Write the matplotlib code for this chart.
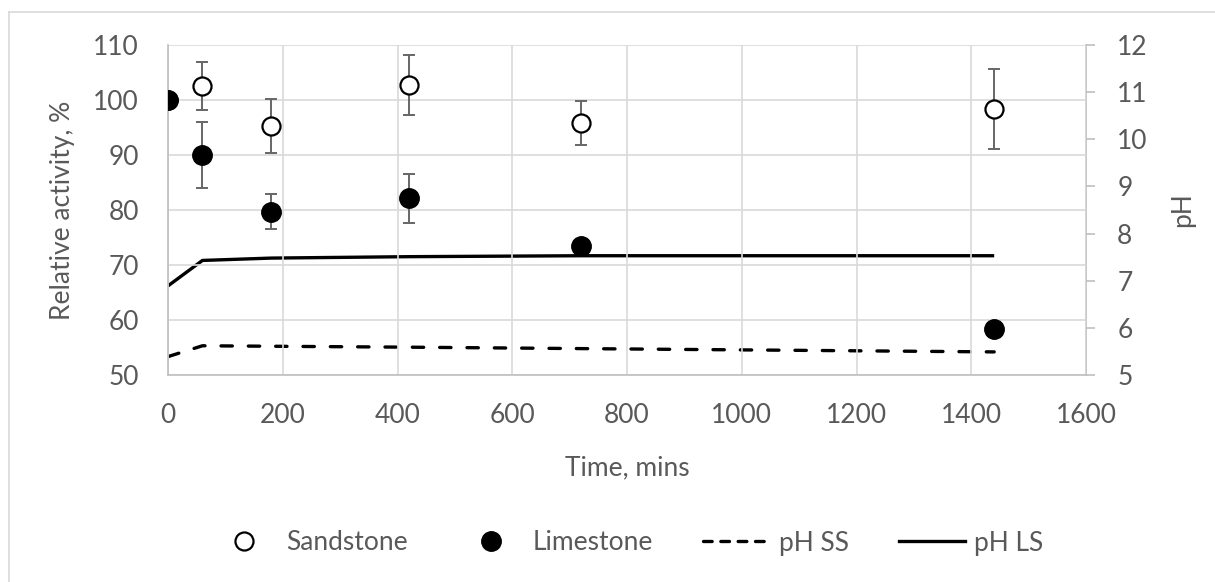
import matplotlib
matplotlib.use("Agg")
import matplotlib.pyplot as plt
from matplotlib.lines import Line2D

plt.rcParams['font.family'] = ['Lato', 'DejaVu Sans']

# Sampling times (minutes)
time_mins = [0, 60, 180, 420, 720, 1440]

# Relative enzyme activity (%) with error bars
sandstone = [100, 102.5, 95.3, 102.7, 95.8, 98.4]
sandstone_err = [0, 4.4, 4.9, 5.4, 4.0, 7.3]
limestone = [100, 90.0, 79.7, 82.1, 73.5, 58.4]
limestone_err = [0, 6.0, 3.2, 4.5, 0.8, 0]

# pH of the suspensions
ph_ss = [5.39, 5.62, 5.61, 5.59, 5.56, 5.49]
ph_ls = [6.89, 7.43, 7.48, 7.51, 7.53, 7.53]

text_color = '#595959'
grid_color = '#d9d9d9'
spine_color = '#bfbfbf'
fs = 19
dash_style = (0, (3.4, 4.8))

fig = plt.figure(figsize=(12.15, 5.82), dpi=100)
ax = fig.add_axes([168 / 1215, 1 - 375 / 582, (1086 - 168) / 1215, (375 - 45) / 582])
ax2 = ax.twinx()

# Chart-area frame
fig.add_artist(Line2D([9 / 1215, 1], [1 - 12 / 582, 1 - 12 / 582], transform=fig.transFigure,
                      color=grid_color, lw=1.2))
fig.add_artist(Line2D([9 / 1215, 9 / 1215], [0, 1 - 12 / 582], transform=fig.transFigure,
                      color=grid_color, lw=1.2))

# pH lines on the secondary axis
ax2.plot(time_mins, ph_ss, color='black', lw=2.4, linestyle=dash_style,
         dash_capstyle='round', zorder=2)
ax2.plot(time_mins, ph_ls, color='black', lw=2.4, solid_capstyle='butt', zorder=2)

# Activity points on the primary axis (drawn above the pH lines)
ax.set_zorder(ax2.get_zorder() + 1)
ax.patch.set_visible(False)
ax2.patch.set_visible(True)
ax2.patch.set_facecolor('white')

err_kw = dict(fmt='none', ecolor='#666666', elinewidth=1.4, capsize=4.5, capthick=1.4, zorder=3)
ax.errorbar(time_mins, sandstone, yerr=sandstone_err, **err_kw)
ax.errorbar(time_mins, limestone, yerr=limestone_err, **err_kw)
ax.plot(time_mins, sandstone, 'o', ms=13, mfc='white', mec='black', mew=1.6, ls='none', zorder=4)
ax.plot(time_mins, limestone, 'o', ms=14, mfc='black', mec='black', ls='none', zorder=5)

# Primary axis
ax.set_xlim(0, 1600)
ax.set_ylim(50, 110)
ax.set_xticks(range(0, 1601, 200))
ax.set_yticks(range(50, 111, 10))
ax.grid(True, color=grid_color, lw=1.2)
ax.set_axisbelow(True)
ax.tick_params(axis='both', length=0, labelsize=fs, labelcolor=text_color)
ax.tick_params(axis='x', pad=20)
ax.tick_params(axis='y', pad=21)
for s in ['top', 'right']:
    ax.spines[s].set_visible(False)
for s in ['left', 'bottom']:
    ax.spines[s].set_color(spine_color)
    ax.spines[s].set_linewidth(1.2)
ax.set_xlabel('Time, mins', fontsize=fs, color=text_color, labelpad=20)
ax.set_ylabel('Relative activity, %', fontsize=fs, color=text_color, labelpad=13)

# Secondary axis
ax2.set_ylim(5, 12)
ax2.set_yticks(range(5, 13))
ax2.tick_params(axis='y', direction='out', length=6.5, width=1.2, color=spine_color,
                labelsize=fs, labelcolor=text_color, pad=16)
for s in ['top', 'left', 'bottom']:
    ax2.spines[s].set_visible(False)
ax2.spines['right'].set_color(spine_color)
ax2.spines['right'].set_linewidth(1.2)
ax2.set_ylabel('pH', fontsize=fs, color=text_color, rotation=90, labelpad=16)

# Legend
handles = [
    Line2D([], [], marker='o', ms=13, mfc='white', mec='black', mew=1.6, ls='none'),
    Line2D([], [], marker='o', ms=14, mfc='black', mec='black', ls='none'),
    Line2D([], [], color='black', lw=2.4, linestyle=(0, (2.6, 2.6)), dash_capstyle='round'),
    Line2D([], [], color='black', lw=2.4),
]
labels = ['Sandstone', 'Limestone', 'pH SS', 'pH LS']
leg = fig.legend(handles, labels, loc='center', bbox_to_anchor=(0.516, 1 - 543 / 582),
                 ncol=4, frameon=False, fontsize=fs, handlelength=2.5, handletextpad=0.35,
                 columnspacing=1.9)
for t in leg.get_texts():
    t.set_color(text_color)

fig.savefig('out.png', dpi=100, facecolor='white')
